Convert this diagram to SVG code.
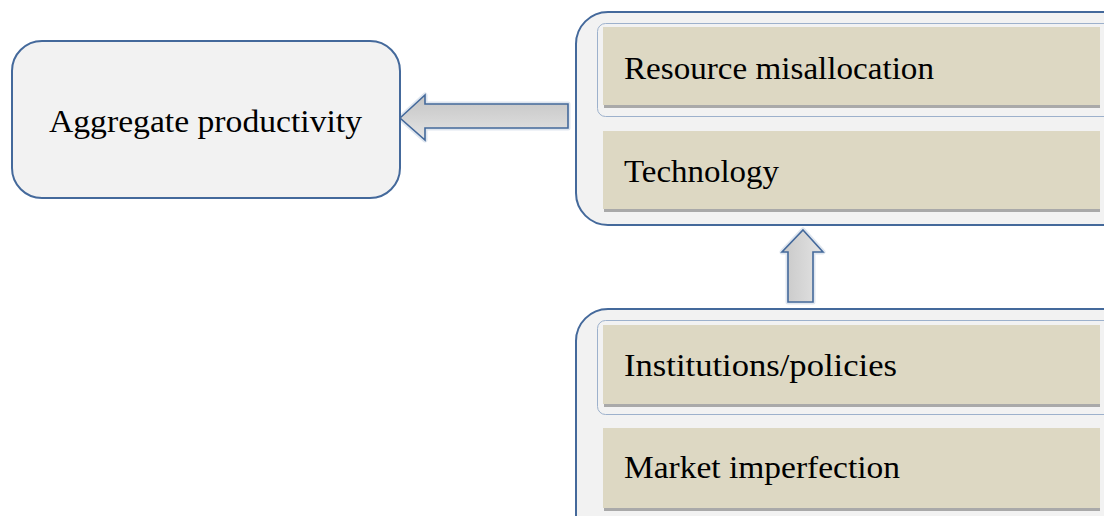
<svg xmlns="http://www.w3.org/2000/svg" width="1104" height="516" viewBox="0 0 1104 516">
<style>
.box{fill:#f2f2f2;stroke:#44699b;stroke-width:2}
.inner{fill:none;stroke:#9db1cc;stroke-width:1}
.bar{fill:#ddd8c3}
.shadow{fill:#a9a9a9}
.t{font-family:"Liberation Serif","DejaVu Serif",serif;font-size:32px;fill:#000}
.glow{fill:none;stroke:#dfe6ef;stroke-width:5;stroke-linejoin:round}
.arr{stroke:#44699b;stroke-width:1.6;stroke-linejoin:miter}
</style>
<defs>
<linearGradient id="gh" x1="0" y1="0" x2="0" y2="1">
<stop offset="0" stop-color="#c4c4c4"/>
<stop offset="0.5" stop-color="#d4d4d4"/>
<stop offset="1" stop-color="#e6e6e6"/>
</linearGradient>
<linearGradient id="gv" x1="0" y1="0" x2="1" y2="0">
<stop offset="0" stop-color="#c8c8c8"/>
<stop offset="0.5" stop-color="#d6d6d6"/>
<stop offset="1" stop-color="#e4e4e4"/>
</linearGradient>
</defs>
<rect width="1104" height="516" fill="#fff"/>
<g id="connectors">
<path class="glow" d="M400,118 L425,95 L425,104 L568,104 L568,128 L425,128 L425,140 Z"/>
<path class="arr" fill="url(#gh)" d="M400,118 L425,95 L425,104 L568,104 L568,128 L425,128 L425,140 Z"/>
<path class="glow" d="M803,230 L823,252 L813,252 L813,302 L788,302 L788,252 L782,252 Z"/>
<path class="arr" fill="url(#gv)" d="M803,230 L823,252 L813,252 L813,302 L788,302 L788,252 L782,252 Z"/>
</g>
<g id="node-aggregate">
<rect class="box" x="12" y="41" width="388" height="157" rx="30"/>
<text class="t" x="49" y="132" textLength="313" lengthAdjust="spacingAndGlyphs">Aggregate productivity</text>
</g>
<g id="node-top-group">
<rect class="box" x="576" y="12" width="560" height="213" rx="32"/>
<rect class="inner" x="597.5" y="23.5" width="520" height="93" rx="8"/>
<g id="node-resource">
<rect class="shadow" x="604" y="104" width="496" height="4"/>
<rect class="bar" x="603" y="27" width="497" height="78"/>
<text class="t" x="624" y="79" textLength="310" lengthAdjust="spacingAndGlyphs">Resource misallocation</text>
</g>
<g id="node-technology">
<rect class="shadow" x="604" y="208" width="496" height="4"/>
<rect class="bar" x="603" y="131" width="497" height="78"/>
<text class="t" x="624" y="182" textLength="155" lengthAdjust="spacingAndGlyphs">Technology</text>
</g>
</g>
<g id="node-bottom-group">
<rect class="box" x="576" y="309" width="560" height="240" rx="32"/>
<rect class="inner" x="597.5" y="320.5" width="520" height="94" rx="8"/>
<g id="node-institutions">
<rect class="shadow" x="604" y="403" width="496" height="4"/>
<rect class="bar" x="603" y="325" width="497" height="79"/>
<text class="t" x="624" y="376" textLength="273" lengthAdjust="spacingAndGlyphs">Institutions/policies</text>
</g>
<g id="node-market">
<rect class="shadow" x="604" y="507" width="496" height="4"/>
<rect class="bar" x="603" y="428" width="497" height="80"/>
<text class="t" x="624" y="478" textLength="276" lengthAdjust="spacingAndGlyphs">Market imperfection</text>
</g>
</g>
</svg>
